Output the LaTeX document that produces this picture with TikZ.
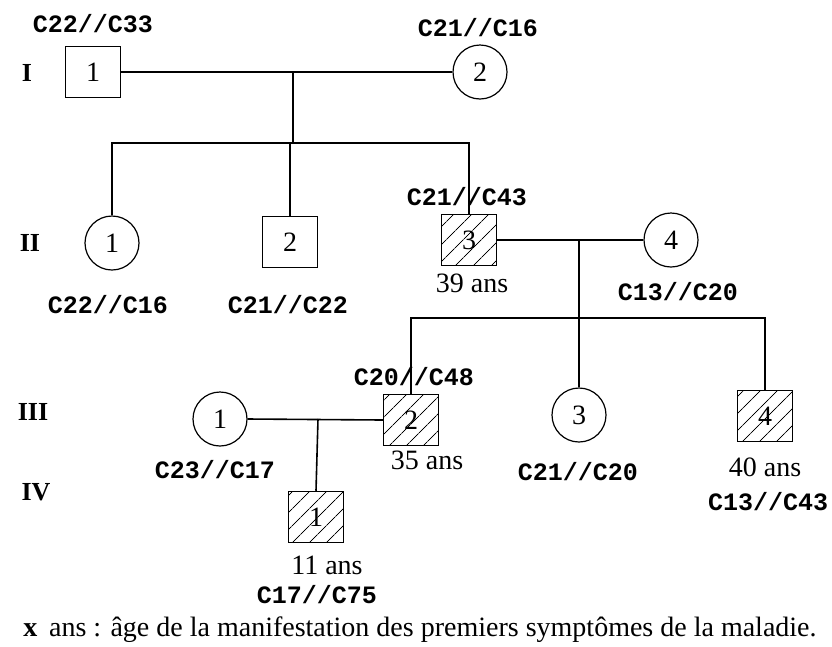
\documentclass[tikz,border=0pt]{standalone}
\usepackage{fontspec}
\setmainfont{Liberation Serif}
\setmonofont{Liberation Mono}
\usetikzlibrary{patterns.meta}
\tikzset{
  male/.style={draw=black, line width=1.5pt, minimum width=55pt, minimum height=51pt, inner sep=0pt, font=\fontsize{28}{30}\selectfont},
  female/.style={draw=black, circle, line width=1.2pt, minimum size=54pt, inner sep=0pt, font=\fontsize{28}{30}\selectfont},
  affected/.style={male, pattern={Lines[angle=45, distance=13pt, line width=0.9pt]}},
  geno/.style={font=\fontsize{25}{27}\selectfont\ttfamily\bfseries, inner sep=0pt},
  agetext/.style={font=\fontsize{28}{30}\selectfont, inner sep=0pt},
  genlabel/.style={font=\fontsize{26}{28}\selectfont\bfseries, inner sep=0pt},
  link/.style={line width=1.6pt}
}

\begin{document}
\begin{tikzpicture}[x=1pt, y=-1pt]
  \useasboundingbox[fill=white] (0,0) rectangle (832,646);
  % generations
  \node[genlabel] (gI)   at (27,73)  {I};
  \node[genlabel] (gII)  at (30,243) {II};
  \node[genlabel] (gIII) at (33,412) {III};
  \node[genlabel] (gIV)  at (36,492) {IV};

  % generation I
  \node[male]   (i1) at (93,72)  {1};
  \node[female] (i2) at (480,72) {2};
  \node[geno] (i1g) at (93,24)  {C22//C33};
  \node[geno] (i2g) at (478,28) {C21//C16};

  % generation II
  \node[female]   (ii1) at (112,243) {1};
  \node[male]     (ii2) at (290,242) {2};
  \node[affected] (ii3) at (469,240) {3};
  \node[female]   (ii4) at (671,240) {4};
  \node[geno] (ii1g) at (108,305) {C22//C16};
  \node[geno] (ii2g) at (288,305) {C21//C22};
  \node[geno] (ii3g) at (467,197) {C21//C43};
  \node[geno] (ii4g) at (678,292) {C13//C20};
  \node[agetext] (ii3a) at (472,283) {39 ans};

  % generation III
  \node[female]   (iii1) at (220,419) {1};
  \node[affected] (iii2) at (411,420) {2};
  \node[female]   (iii3) at (579,415) {3};
  \node[affected] (iii4) at (765,416) {4};
  \node[geno] (iii1g) at (215,470) {C23//C17};
  \node[geno] (iii2g) at (414,377) {C20//C48};
  \node[geno] (iii3g) at (578,472) {C21//C20};
  \node[geno] (iii4g) at (768,502) {C13//C43};
  \node[agetext] (iii2a) at (427,460) {35 ans};
  \node[agetext] (iii4a) at (765,467) {40 ans};

  % generation IV
  \node[affected] (iv1) at (316,517) {1};
  \node[agetext] (iv1a) at (327,565) {11 ans};
  \node[geno] (iv1g) at (317,595) {C17//C75};

  % legend
  \node[agetext] (legend) at (420,630) {\textbf{x}\, ans : âge de la manifestation des premiers symptômes de la maladie.};

  % couples and sibships
  \coordinate (m1) at (293,72);
  \coordinate (s1) at (293,143);
  \draw[link] (i1.east) -- (i2.west);
  \draw[link] (m1) -- (s1);
  \draw[link] (ii1.north) |- (s1) -| (ii3.north);
  \draw[link] (ii2.north) -- (ii2.north |- s1);

  \coordinate (m2) at (579,240);
  \coordinate (s2) at (579,318);
  \draw[link] (ii3.east) -- (ii4.west);
  \draw[link] (m2) -- (iii3.north);
  \draw[link] (iii2.north) |- (s2) -| (iii4.north);

  \coordinate (m3) at (318,419);
  \draw[link] (iii1.east) -- (iii2.west);
  \draw[link] (m3) -- (iv1.north);
\end{tikzpicture}
\end{document}
